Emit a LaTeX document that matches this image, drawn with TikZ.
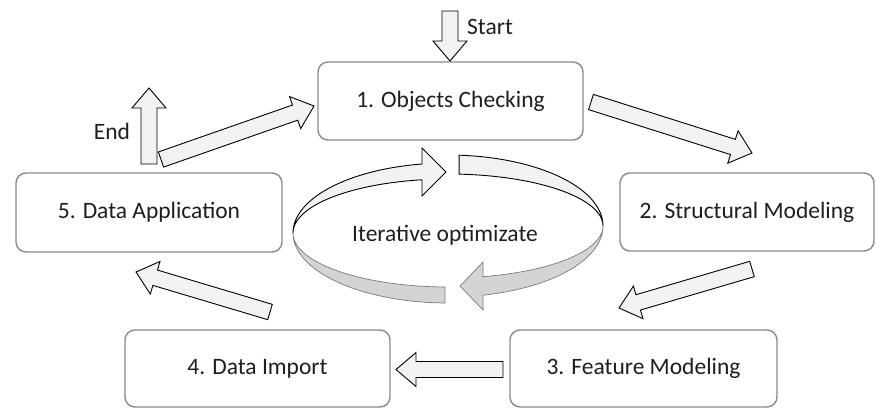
\documentclass[tikz,border=0pt]{standalone}
\usepackage{fontspec}
\setmainfont{Carlito}
\usetikzlibrary{calc}

\definecolor{boxline}{HTML}{8A8A8A}
\definecolor{arrowfill}{HTML}{F2F2F2}
\definecolor{ringfill}{HTML}{D4D4D4}
\definecolor{ringedge}{HTML}{7A7A7A}
\definecolor{txt}{HTML}{1E1E1E}

\tikzset{
  box/.style={draw=boxline, line width=1.4pt, rounded corners=10pt, fill=white,
    text=txt, font=\fontsize{23.5}{28}\selectfont, inner sep=0pt},
  lbl/.style={text=txt, font=\fontsize{23.5}{28}\selectfont, inner sep=0pt},
  blk/.style={draw=black, fill=arrowfill, line width=0.9pt, line join=miter},
  ringfront/.style={draw=black, fill=arrowfill, line width=0.9pt},
  ringback/.style={draw=ringedge, fill=ringfill, line width=0.7pt}
}

% wide hollow arrow from #1 (tail) to #2 (tip)
\newcommand\blockarrow[2]{%
  \coordinate (hb) at ($(#2)!20pt!(#1)$);
  \draw[blk] ($(#1)!8pt!90:(#2)$) -- ($(hb)!8pt!90:(#2)$) -- ($(hb)!17pt!90:(#2)$) -- (#2)
     -- ($(hb)!17pt!-90:(#2)$) -- ($(hb)!8pt!-90:(#2)$) -- ($(#1)!8pt!-90:(#2)$) -- cycle;
}

\begin{document}
\begin{tikzpicture}[x=1pt, y=-1pt]
\useasboundingbox (0,0) rectangle (876,408);

% process steps
\node[box, minimum width=265pt, minimum height=78pt] (obj)    at (450.5,101)   {1. Objects Checking};
\node[box, minimum width=254pt, minimum height=78pt] (struct) at (747,212)     {2. Structural Modeling};
\node[box, minimum width=267pt, minimum height=77pt] (feat)   at (643.5,368.5) {3. Feature Modeling};
\node[box, minimum width=265pt, minimum height=77pt] (imp)    at (257.5,368.5) {4. Data Import};
\node[box, minimum width=266pt, minimum height=79pt] (app)    at (149,212.5)   {5. Data Application};

% arrow end points
\coordinate (s0) at (450,11);    \coordinate (s1) at (450,61);
\coordinate (e0) at (149,164);   \coordinate (e1) at (149,88);
\coordinate (a51) at (161,159.5);\coordinate (b51) at (314,106);
\coordinate (a12) at (591,102);  \coordinate (b12) at (752,153);
\coordinate (a23) at (752,269);  \coordinate (b23) at (619,308);
\coordinate (a34) at (503,369.5);\coordinate (b34) at (396,369.5);
\coordinate (a45) at (270,312);  \coordinate (b45) at (136,272);

\blockarrow{s0}{s1}
\blockarrow{e0}{e1}
\blockarrow{a51}{b51}
\blockarrow{a12}{b12}
\blockarrow{a23}{b23}
\blockarrow{a34}{b34}
\blockarrow{a45}{b45}

\node[lbl, anchor=west] (start) at (467,27) {Start};
\node[lbl] (end) at (112,131) {End};

% cyclic ribbon: left half (bottom -> left -> top)
\path[ringback]
  plot[variable=\t, domain=268.9:180, samples=50] ({448+155*cos(\t)},{233-70*sin(\t)})
  -- plot[variable=\t, domain=180:268.9, samples=50] ({448+155*cos(\t)},{233-54*sin(\t)})
  -- cycle;
\path[ringfront]
  plot[variable=\t, domain=180:99.66, samples=50] ({448+155*cos(\t)},{233-70*sin(\t)})
  -- (422,148) -- (446,172) -- (422,196)
  -- plot[variable=\t, domain=99.66:180, samples=50] ({448+155*cos(\t)},{233-54*sin(\t)})
  -- cycle;

% cyclic ribbon: right half (top -> right -> bottom)
\path[ringfront]
  plot[variable=\t, domain=85.9:0, samples=50] ({448+155*cos(\t)},{226-71*sin(\t)})
  -- plot[variable=\t, domain=0:85.9, samples=50] ({448+155*cos(\t)},{226-52*sin(\t)})
  -- cycle;
\path[ringback]
  plot[variable=\t, domain=0:-76.95, samples=50] ({448+155*cos(\t)},{226-71*sin(\t)})
  -- (483,310) -- (460,286) -- (483,262)
  -- plot[variable=\t, domain=-76.95:0, samples=50] ({448+155*cos(\t)},{226-52*sin(\t)})
  -- cycle;

\node[lbl] (iter) at (445,235) {Iterative optimizate};
\end{tikzpicture}
\end{document}
